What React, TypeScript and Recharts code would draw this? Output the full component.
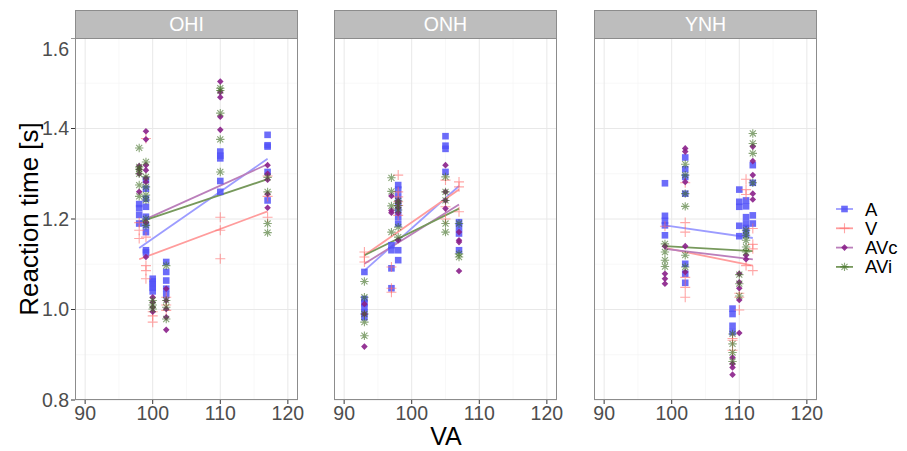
import { ComposedChart, Scatter, Line, XAxis, YAxis, CartesianGrid } from "recharts";

const groups = ["A", "V", "AVc", "AVi"];
const panels = ["OHI", "ONH", "YNH"];
const xTicks = [90, 100, 110, 120];
const xMinor = [95, 105, 115];
const yTicks = [0.8, 1.0, 1.2, 1.4, 1.6];
const yMinor = [0.9, 1.1, 1.3, 1.5];

// [VA, reaction time]
const ohiA = [
  [98, 1.233], [98, 1.224], [98, 1.209], [98, 1.19],
  [99, 1.286], [99, 1.267], [99, 1.245], [99, 1.227], [99, 1.205], [99, 1.186], [99, 1.171], [99, 1.131], [99, 1.126],
  [100, 1.068], [100, 1.062], [100, 1.055], [100, 1.048], [100, 1.04],
  [102, 1.105], [102, 1.083], [102, 1.064], [102, 1.046], [102, 1.032],
  [110, 1.349], [110, 1.34], [110, 1.334], [110, 1.284], [110, 1.26],
  [117, 1.386], [117, 1.363], [117, 1.36], [117, 1.304], [117, 1.241],
];
const ohiV = [
  [98, 1.192], [98, 1.175], [98, 1.157],
  [99, 1.378], [99, 1.16], [99, 1.097], [99, 1.086], [99, 1.068],
  [100, 0.995], [100, 0.986], [100, 0.972],
  [102, 1.027], [102, 1.01], [102, 0.998],
  [110, 1.204], [110, 1.175], [110, 1.112],
  [117, 1.295], [117, 1.25], [117, 1.204],
];
const ohiAVc = [
  [98, 1.317], [98, 1.31], [98, 1.3], [98, 1.26],
  [99, 1.394], [99, 1.376], [99, 1.319], [99, 1.308], [99, 1.29], [99, 1.282], [99, 1.193], [99, 1.116],
  [100, 1.027], [100, 1.016], [100, 1.005], [100, 0.995],
  [102, 1.046], [102, 1.02], [102, 1.001], [102, 0.983], [102, 0.955],
  [110, 1.504], [110, 1.48], [110, 1.469], [110, 1.426], [110, 1.397],
  [117, 1.319], [117, 1.3], [117, 1.287], [117, 1.255], [117, 1.225],
];
const ohiAVi = [
  [98, 1.357], [98, 1.315], [98, 1.31], [98, 1.3], [98, 1.275], [98, 1.25],
  [99, 1.326], [99, 1.293], [99, 1.271], [99, 1.253], [99, 1.242], [99, 1.2], [99, 1.186],
  [100, 1.02], [100, 1.01], [100, 1.001],
  [102, 1.097], [102, 1.02], [102, 1.005], [102, 0.979],
  [110, 1.489], [110, 1.484], [110, 1.434], [110, 1.376], [110, 1.304],
  [117, 1.292], [117, 1.26], [117, 1.19], [117, 1.17],
];

const onhA = [
  [93, 1.083], [93, 1.023], [93, 1.014], [93, 1.005], [93, 0.994], [93, 0.983],
  [97, 1.142], [97, 1.131], [97, 1.091], [97, 1.047],
  [98, 1.275], [98, 1.265], [98, 1.25], [98, 1.235], [98, 1.22], [98, 1.205], [98, 1.19], [98, 1.131], [98, 1.109],
  [105, 1.383], [105, 1.362], [105, 1.355], [105, 1.304],
  [107, 1.193], [107, 1.182], [107, 1.168], [107, 1.131],
];
const onhV = [
  [93, 1.127], [93, 1.116], [93, 1.105],
  [97, 1.094], [97, 1.047], [97, 1.038],
  [98, 1.297], [98, 1.26], [98, 1.249], [98, 1.238], [98, 1.23], [98, 1.208],
  [105, 1.286], [105, 1.227], [105, 1.2],
  [107, 1.282], [107, 1.271], [107, 1.216],
];
const onhAVc = [
  [93, 1.012], [93, 0.99], [93, 0.918],
  [97, 1.251], [97, 1.219], [97, 1.214],
  [98, 1.24], [98, 1.235], [98, 1.225], [98, 1.213], [98, 1.153],
  [105, 1.319], [105, 1.26], [105, 1.241], [105, 1.223],
  [107, 1.171], [107, 1.153], [107, 1.149], [107, 1.085],
];
const onhAVi = [
  [93, 1.062], [93, 1.027], [93, 0.99], [93, 0.972], [93, 0.942],
  [97, 1.291], [97, 1.261], [97, 1.229], [97, 1.171],
  [98, 1.24], [98, 1.23], [98, 1.22], [98, 1.182], [98, 1.16],
  [105, 1.293], [105, 1.26], [105, 1.241], [105, 1.19], [105, 1.171],
  [107, 1.19], [107, 1.123], [107, 1.116],
];

const ynhA = [
  [99, 1.279], [99, 1.207], [99, 1.196], [99, 1.186], [99, 1.164],
  [102, 1.336], [102, 1.31], [102, 1.293], [102, 1.256], [102, 1.101], [102, 1.079], [102, 1.059],
  [109, 1.002], [109, 0.99], [109, 0.964], [109, 0.95],
  [110, 1.265], [110, 1.238], [110, 1.227], [110, 1.185], [110, 1.162],
  [111, 1.241], [111, 1.228], [111, 1.204], [111, 1.19], [111, 1.18], [111, 1.168],
  [112, 1.319], [112, 1.28], [112, 1.208], [112, 1.19],
];
const ynhV = [
  [99, 1.184],
  [102, 1.28], [102, 1.192], [102, 1.171], [102, 1.071], [102, 1.049], [102, 1.027],
  [109, 0.936], [109, 0.932], [109, 0.91],
  [110, 1.036], [110, 1.027], [110, 0.999],
  [111, 1.288], [111, 1.265], [111, 1.254], [111, 1.097],
  [112, 1.179], [112, 1.144], [112, 1.134], [112, 1.086],
];
const ynhAVc = [
  [99, 1.14], [99, 1.079], [99, 1.068], [99, 1.057],
  [102, 1.356], [102, 1.349], [102, 1.282], [102, 1.14], [102, 1.083],
  [109, 0.894], [109, 0.88], [109, 0.872], [109, 0.856],
  [110, 1.079], [110, 1.06], [110, 1.047], [110, 1.021], [110, 0.948],
  [111, 1.12], [111, 1.111],
  [112, 1.36], [112, 1.328], [112, 1.297], [112, 1.256], [112, 1.243],
];
const ynhAVi = [
  [99, 1.145], [99, 1.127], [99, 1.109], [99, 1.095],
  [102, 1.321], [102, 1.297], [102, 1.256], [102, 1.228], [102, 1.12], [102, 1.094],
  [109, 0.946], [109, 0.924], [109, 0.905], [109, 0.885],
  [110, 1.077], [110, 1.057], [110, 1.03],
  [111, 1.175], [111, 1.164], [111, 1.153], [111, 1.138], [111, 1.127],
  [112, 1.389], [112, 1.367], [112, 1.345], [112, 1.28],
];

// linear fit: VA range per panel, fitted RT at both ends per group (A, V, AVc, AVi)
const vaRange = [[98, 117], [93, 107], [99, 112]];
const fitOHI = [[1.136, 1.333], [1.111, 1.217], [1.193, 1.321], [1.193, 1.288]];
const fitONH = [[1.086, 1.273], [1.12, 1.265], [1.101, 1.232], [1.12, 1.223]];
const fitYNH = [[1.186, 1.158], [1.136, 1.097], [1.134, 1.111], [1.14, 1.129]];

const panelPoints = [
  [ohiA, ohiV, ohiAVc, ohiAVi],
  [onhA, onhV, onhAVc, onhAVi],
  [ynhA, ynhV, ynhAVc, ynhAVi],
];
const panelFits = [fitOHI, fitONH, fitYNH];

const lineColors = ["#9c9cff", "#ff9c9c", "#bb7fbb", "#77995c"];

const PLOT_LEFT = [75, 334, 594];
const PLOT_TOP = 38;
const PLOT_W = 223;
const PLOT_H = 362;
const FONT = "'Liberation Sans', Arial, sans-serif";

function Square({ cx, cy }: any) {
  return <rect x={cx - 3.3} y={cy - 3.3} width={6.6} height={6.6} fill="#5252f8" fillOpacity={0.85} />;
}
function Plus({ cx, cy }: any) {
  return (
    <path d={`M${cx - 5},${cy}h10M${cx},${cy - 5}v10`} stroke="#ff6b6b" strokeOpacity={0.6} strokeWidth={1.1} fill="none" />
  );
}
function Diamond({ cx, cy }: any) {
  return <path d={`M${cx},${cy - 3.3}l3.3,3.3l-3.3,3.3l-3.3,-3.3z`} fill="#8a1f8a" fillOpacity={0.9} />;
}
function Star({ cx, cy }: any) {
  const r = 4.2;
  const d = r * 0.72;
  return (
    <path
      d={`M${cx - r},${cy}h${2 * r}M${cx},${cy - r}v${2 * r}M${cx - d},${cy - d}l${2 * d},${2 * d}M${cx - d},${cy + d}l${2 * d},${-2 * d}`}
      stroke="#3b6a1e"
      strokeOpacity={0.6}
      strokeWidth={1.1}
      fill="none"
    />
  );
}
const shapes = [Square, Plus, Diamond, Star];

function Panel({ index }: { index: number }) {
  const showY = index === 0;
  const [x0, x1] = vaRange[index];
  return (
    <ComposedChart
      width={PLOT_W + 46}
      height={PLOT_H + 30}
      margin={{ top: 0, right: 6, bottom: 0, left: showY ? 0 : 40 }}
    >
      <CartesianGrid horizontalValues={yMinor} verticalValues={xMinor} stroke="#f3f3f3" strokeWidth={0.6} />
      <CartesianGrid horizontalValues={yTicks} verticalValues={xTicks} stroke="#e8e8e8" strokeWidth={1} />
      <XAxis
        type="number"
        dataKey="va"
        domain={[88.5, 121.5]}
        ticks={xTicks}
        allowDataOverflow
        axisLine={false}
        tickSize={4}
        tickLine={{ stroke: "#333333" }}
        tick={{ fontSize: 19.5, fill: "#4d4d4d", fontFamily: FONT }}
        height={30}
      />
      <YAxis
        type="number"
        dataKey="rt"
        domain={[0.8, 1.6]}
        ticks={yTicks}
        allowDataOverflow
        hide={!showY}
        width={40}
        axisLine={false}
        tickSize={4}
        tickLine={{ stroke: "#333333" }}
        tickFormatter={(v: number) => v.toFixed(1)}
        tick={{ fontSize: 19.5, fill: "#4d4d4d", fontFamily: FONT }}
      />
      {groups.map((g, gi) => (
        <Scatter
          key={g}
          name={g}
          data={panelPoints[index][gi].map(([va, rt]) => ({ va, rt }))}
          dataKey="rt"
          shape={shapes[gi]}
          isAnimationActive={false}
        />
      ))}
      {groups.map((g, gi) => (
        <Line
          key={g + "-fit"}
          data={[
            { va: x0, rt: panelFits[index][gi][0] },
            { va: x1, rt: panelFits[index][gi][1] },
          ]}
          dataKey="rt"
          stroke={lineColors[gi]}
          strokeWidth={1.8}
          dot={false}
          activeDot={false}
          isAnimationActive={false}
        />
      ))}
    </ComposedChart>
  );
}

export default function App() {
  return (
    <div
      style={{
        position: "absolute",
        left: 0,
        top: 0,
        width: 907,
        height: 451,
        background: "#ffffff",
        fontFamily: FONT,
      }}
    >
      {panels.map((p, i) => (
        <div key={p}>
          <div
            style={{
              position: "absolute",
              left: PLOT_LEFT[i] - 40,
              top: PLOT_TOP,
            }}
          >
            <Panel index={i} />
          </div>
          <div
            style={{
              position: "absolute",
              left: PLOT_LEFT[i],
              top: PLOT_TOP,
              width: PLOT_W,
              height: PLOT_H,
              border: "1px solid #8c8c8c",
              boxSizing: "border-box",
              pointerEvents: "none",
            }}
          />
          <div
            style={{
              position: "absolute",
              left: PLOT_LEFT[i],
              top: 10,
              width: PLOT_W,
              height: 29,
              background: "#bdbdbd",
              border: "1px solid #8c8c8c",
              boxSizing: "border-box",
              color: "#ffffff",
              fontSize: 19.5,
              lineHeight: "27px",
              textAlign: "center",
            }}
          >
            {p}
          </div>
        </div>
      ))}
      <svg width={907} height={451} style={{ position: "absolute", left: 0, top: 0, pointerEvents: "none" }}>
        <text x={38} y={219} transform="rotate(-90 38 219)" textAnchor="middle" fontSize={26} fill="#000000" fontFamily={FONT}>
          Reaction time [s]
        </text>
        <text x={446} y={445} textAnchor="middle" fontSize={25} fill="#000000" fontFamily={FONT}>
          VA
        </text>
        {groups.map((g, gi) => {
          const y = 209 + gi * 19.3;
          const Shape = shapes[gi];
          return (
            <g key={g}>
              <line x1={836} x2={853} y1={y} y2={y} stroke={lineColors[gi]} strokeWidth={1.8} />
              <Shape cx={844.5} cy={y} />
              <text x={865} y={y} dominantBaseline="central" fontSize={18.5} fill="#000000" fontFamily={FONT}>
                {g}
              </text>
            </g>
          );
        })}
      </svg>
    </div>
  );
}
